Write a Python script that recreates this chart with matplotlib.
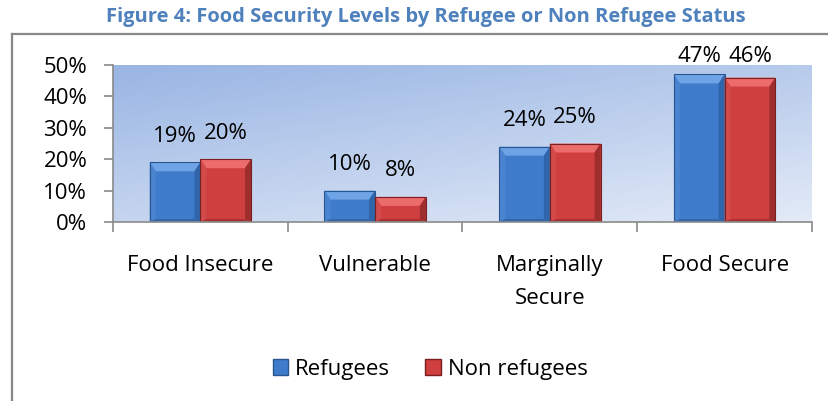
import numpy as np
import matplotlib
matplotlib.use("Agg")
import matplotlib.pyplot as plt
from matplotlib.patches import Polygon, Patch
from matplotlib.lines import Line2D

plt.rcParams['font.family'] = ['Open Sans', 'DejaVu Sans']

categories = ['Food Insecure', 'Vulnerable', 'Marginally\nSecure', 'Food Secure']
refugees = [19, 10, 24, 47]
non_refugees = [20, 8, 25, 46]
series_names = ['Refugees', 'Non refugees']
yticks = [0, 10, 20, 30, 40, 50]

blue = dict(face='#3f7bcb', top='#6ea3e6', left='#4a83d0', right='#3165aa', bottom='#3466ab', edge='#2a5690')
red = dict(face='#cf3f3f', top='#ec6c6c', left='#d34a4a', right='#9e2e2e', bottom='#a83232', edge='#7a1f1f')

W, H = 829, 401
fig = plt.figure(figsize=(W / 100, H / 100), dpi=100)
ax = fig.add_axes([113 / W, 1 - 222 / H, (812 - 113) / W, (222 - 65) / H])

x = np.arange(len(categories))
bar_w = 0.29
ax.set_xlim(-0.5, len(categories) - 0.5)
ax.set_ylim(0, 50)

# diagonal blue gradient behind the bars
gx, gy = np.meshgrid(np.linspace(0, 1, 200), np.linspace(0, 1, 100))
t = 0.6 * gy + 0.4 * gx
c0 = np.array([0.60, 0.71, 0.89])
c1 = np.array([0.89, 0.92, 0.97])
grad = c0[None, None, :] * (1 - t[..., None]) + c1[None, None, :] * t[..., None]
ax.imshow(grad, extent=[-0.5, len(categories) - 0.5, 0, 50], origin='upper',
          aspect='auto', zorder=0)


def bevel_bar(xc, h, col):
    # px -> data conversions for the bevel widths
    sx = (ax.get_xlim()[1] - ax.get_xlim()[0]) / ax.bbox.width
    sy = (ax.get_ylim()[1] - ax.get_ylim()[0]) / ax.bbox.height
    x0, x1 = xc - bar_w / 2, xc + bar_w / 2
    ax.bar(xc, h, width=bar_w, color=col['face'], edgecolor='none', zorder=2)
    ix0, ix1 = x0 + 6 * sx, x1 - 6 * sx
    iy0, iy1 = 3 * sy, h - 9 * sy
    polys = [
        ([(x0, h), (x1, h), (ix1, iy1), (ix0, iy1)], col['top']),
        ([(x0, 0), (x0, h), (ix0, iy1), (ix0, iy0)], col['left']),
        ([(x1, 0), (x1, h), (ix1, iy1), (ix1, iy0)], col['right']),
        ([(x0, 0), (x1, 0), (ix1, iy0), (ix0, iy0)], col['bottom']),
    ]
    for pts, c in polys:
        ax.add_patch(Polygon(pts, closed=True, facecolor=c, edgecolor='none', zorder=3))
    ax.add_patch(Polygon([(x0, 0), (x1, 0), (x1, h), (x0, h)], closed=True,
                         facecolor='none', edgecolor=col['edge'], linewidth=0.8, zorder=4))


for i in range(len(categories)):
    for v, xc, col in [(refugees[i], x[i] - bar_w / 2, blue),
                       (non_refugees[i], x[i] + bar_w / 2, red)]:
        bevel_bar(xc, v, col)
        ax.text(xc, min(v + 8.3, 52.8), f'{v}%', ha='center', va='center',
                fontsize=16, clip_on=False, zorder=5)

# axes styling
for s in ['top', 'right']:
    ax.spines[s].set_visible(False)
for s in ['left', 'bottom']:
    ax.spines[s].set_color('#8a8a8a')
    ax.spines[s].set_linewidth(1.2)
    ax.spines[s].set_zorder(6)

ax.set_yticks(yticks)
ax.set_yticklabels([f'{v}%' for v in yticks], fontsize=16)
ax.tick_params(axis='y', direction='out', length=6.5, width=1.2, color='#8a8a8a', pad=12)

ax.set_xticks(x)
ax.set_xticklabels(categories, fontsize=16, linespacing=1.7)
ax.set_xticks(np.arange(-0.5, len(categories)), minor=True)
ax.tick_params(axis='x', which='major', length=0, pad=24)
ax.tick_params(axis='x', which='minor', direction='out', length=7, width=1.2, color='#8a8a8a')

# outer frame of the chart area
fig.add_artist(Line2D([12 / W, 1.0], [1 - 34 / H, 1 - 34 / H], transform=fig.transFigure,
                      color='#888888', linewidth=1.6))
fig.add_artist(Line2D([12 / W, 12 / W], [0, 1 - 34 / H], transform=fig.transFigure,
                      color='#888888', linewidth=1.6))

fig.text(426 / W, 1 - 17 / H, 'Figure 4: Food Security Levels by Refugee or Non Refugee Status',
         ha='center', va='center', fontsize=14.5, fontweight='bold', color='#4f81bd')

handles = [Patch(facecolor=blue['face'], edgecolor=blue['edge']),
           Patch(facecolor=red['face'], edgecolor=red['edge'])]
fig.legend(handles, series_names, loc='center', bbox_to_anchor=(430 / W, 1 - 369 / H),
           ncol=2, frameon=False, fontsize=16, handlelength=0.7, handleheight=0.7,
           handletextpad=0.3, columnspacing=1.6)

fig.savefig('out.png', dpi=100)
